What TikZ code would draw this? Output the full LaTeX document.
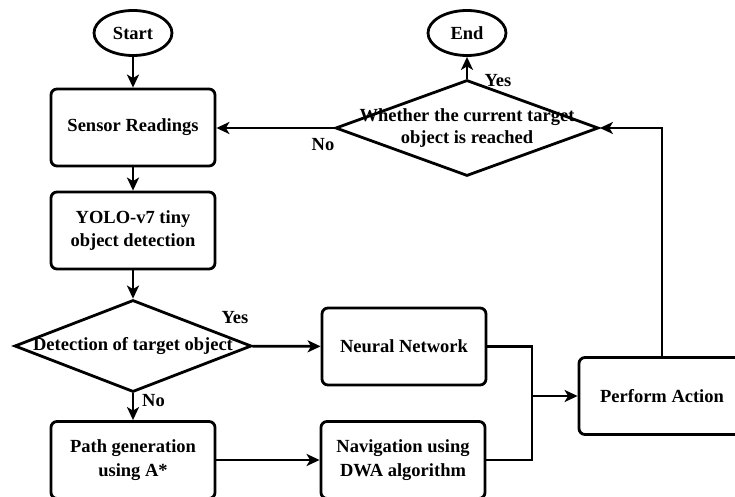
\documentclass[tikz,border=0pt]{standalone}
\usepackage{fontspec}
\setmainfont{Liberation Serif}
\usetikzlibrary{shapes.geometric,arrows.meta}

\begin{document}
\begin{tikzpicture}[x=1pt,y=-1pt,
  every node/.style={font=\bfseries\fontsize{18.5}{23.5}\selectfont,
                     align=center, inner sep=0pt},
  terminal/.style={ellipse, draw, line width=2.8pt,
                   minimum width=78pt, minimum height=45pt},
  stepbox/.style={rectangle, draw, line width=2.8pt, rounded corners=6pt,
                  minimum width=164pt, minimum height=77pt},
  decision/.style={diamond, draw, line width=2.8pt},
  flow/.style={line width=2.8pt},
  arr/.style={flow, -{Stealth[length=13pt,width=12pt,inset=3.5pt]}},
  tag/.style={}
]
\clip (0,0) rectangle (735,497);

% terminals
\node[terminal] (start) at (133,33) {Start};
\node[terminal] (end)   at (467,33) {End};

% left column
\node[stepbox] (sensor) at (133,127.5) {Sensor Readings};
\node[stepbox] (yolo)   at (133,230.5) {YOLO-v7 tiny\\object detection};
\node[decision, minimum width=237pt, minimum height=92pt] (detect) at (133,346)
  {\makebox[0pt]{Detection of target object}};
\node[stepbox] (path)   at (133,460) {Path generation\\using A*};

% middle column
\node[stepbox] (nn)  at (404,346.5) {Neural Network};
\node[stepbox] (nav) at (403,460)   {Navigation using\\DWA algorithm};

% right side
\node[stepbox, minimum width=166pt] (perform) at (662,396) {Perform Action};
\node[decision, minimum width=263pt, minimum height=96pt] (goal) at (467,128)
  {\raisebox{-2pt}{\makebox[0pt]{\begin{tabular}{@{}c@{}}Whether the current target\\[-1pt]object is reached\end{tabular}}}};

% main flow
\draw[arr] (start) -- (sensor);
\draw[arr] (sensor) -- (yolo);
\draw[arr] (yolo) -- (detect);
\draw[arr] (detect) -- (path);
\draw[arr] (detect) -- (nn);
\draw[arr] (path.east) -- (nav.west |- path.east);

% merge into the action
\coordinate (merge) at (532,396);
\draw[flow] (nn.east) -| (merge);
\draw[flow] (nav.east) -| (merge);
\draw[arr] (merge) -- (perform.west);

% feedback loop
\draw[arr] (perform.north) |- (goal.east);
\draw[arr] (goal.west) -- (sensor.east |- goal.west);
\draw[arr] (goal) -- (end);

% branch labels
\node[tag] (noA)  at (153.5,401) {No};
\node[tag] (yesA) at (235,318)   {Yes};
\node[tag] (noB)  at (323,145)   {No};
\node[tag] (yesB) at (498,81)    {Yes};
\end{tikzpicture}
\end{document}
